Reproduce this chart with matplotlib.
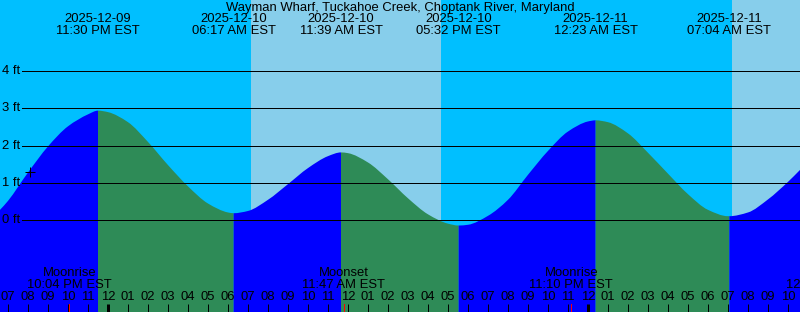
import numpy as np
import matplotlib.pyplot as plt
from matplotlib.path import Path
from matplotlib.patches import PathPatch

# %%
# Tide predictions, Wayman Wharf (hours after 2025-12-10 00:00 EST, feet)
title = 'Wayman Wharf, Tuckahoe Creek, Choptank River, Maryland'

event_hours = [-0.5, 6.283, 11.65, 17.533, 24.383, 31.067]
event_heights = [2.94, 0.19, 1.82, -0.14, 2.68, 0.11]
event_dates = ['2025-12-09', '2025-12-10', '2025-12-10',
               '2025-12-10', '2025-12-11', '2025-12-11']
event_times = ['11:30 PM EST', '06:17 AM EST', '11:39 AM EST',
               '05:32 PM EST', '12:23 AM EST', '07:04 AM EST']

# curve heights read off roughly every hour
curve_hours = [-5.4, -5, -4, -3, -2, -1, 0, 1, 2, 3, 4, 5, 6, 7, 8, 9,
               10, 11, 12, 13, 14, 15, 16, 17, 18, 19, 20, 21, 22, 23,
               24, 25, 26, 27, 28, 29, 30, 31, 32, 33, 34, 34.6]
curve_heights = [0.28, 0.52, 1.28, 1.98, 2.52, 2.84, 2.90, 2.63, 2.10,
                 1.48, 0.91, 0.45, 0.21, 0.25, 0.55, 0.97, 1.40, 1.72,
                 1.80, 1.55, 1.10, 0.59, 0.16, -0.09, -0.12, 0.12, 0.55,
                 1.22, 1.86, 2.38, 2.65, 2.63, 2.33, 1.81, 1.25, 0.70,
                 0.28, 0.11, 0.21, 0.56, 1.03, 1.35]

# daylight
sunrise_hours = [7.15, 31.2]
sunset_hours = [16.65, 41.0]

# moon
moon_hours = [-1.933, 11.783, 23.167, 36.0]
moon_names = ['Moonrise', 'Moonset', 'Moonrise', 'Moonset']
moon_times = ['10:04 PM EST', '11:47 AM EST', '11:10 PM EST', '12:00 PM EST']

grid_levels = [0, 1, 2, 3, 4]
tick_hours = np.arange(-5, 35)
tick_labels = ['%02d' % ((h - 1) % 12 + 1) for h in tick_hours]
midnight_hours = [0, 24]

# %%
plt.rcParams['font.family'] = ['Liberation Sans', 'DejaVu Sans']
night_col = '#00BFFF'
day_col = '#87CEEB'
rise_col = '#0000FF'
fall_col = '#2E8B57'
px = 0.72  # one pixel in points at dpi 100
fs = 9.4

W, H = 800, 312
x0 = -108.0 / 20  # left edge in hours
x1 = x0 + W / 20
y_top = 220.3 / 37.3
y_bot = -(H - 220.3) / 37.3


def ypx(y):
    return (220.3 - y) / 37.3


def slopes(t, h):
    # monotone (Fritsch-Carlson) tangents so the drawn curve stays smooth
    d = np.diff(h) / np.diff(t)
    m = np.zeros_like(h)
    m[0], m[-1] = d[0], d[-1]
    for k in range(1, len(h) - 1):
        if d[k - 1] * d[k] > 0:
            m[k] = 2 / (1 / d[k - 1] + 1 / d[k])
    return m


fig = plt.figure(figsize=(8, 3.12), dpi=100)
fig.patch.set_facecolor(night_col)
ax = fig.add_axes([0, 0, 1, 1])
ax.set_xlim(x0, x1)
ax.set_ylim(y_bot, y_top)
ax.axis('off')

ax.axvspan(x0, x1, color=night_col, lw=0, zorder=0)
for sr, ss in zip(sunrise_hours, sunset_hours):
    ax.axvspan(sr, ss, color=day_col, lw=0, zorder=1)

# tide curve, split at high/low water
t = np.array(curve_hours + event_hours)
h = np.array(curve_heights + event_heights)
order = np.argsort(t)
t, h = t[order], h[order]
m = slopes(t, h)
bounds = [t[0]] + event_hours + [t[-1]]
for b0, b1 in zip(bounds[:-1], bounds[1:]):
    idx = np.where((t >= b0) & (t <= b1))[0]
    verts = [(t[idx[0]], y_bot), (t[idx[0]], h[idx[0]])]
    codes = [Path.MOVETO, Path.LINETO]
    for a, b in zip(idx[:-1], idx[1:]):
        dt = (t[b] - t[a]) / 3
        verts += [(t[a] + dt, h[a] + m[a] * dt),
                  (t[b] - dt, h[b] - m[b] * dt),
                  (t[b], h[b])]
        codes += [Path.CURVE4] * 3
    verts += [(t[idx[-1]], y_bot), (t[idx[0]], y_bot)]
    codes += [Path.LINETO, Path.CLOSEPOLY]
    col = rise_col if h[idx[-1]] > h[idx[0]] else fall_col
    ax.add_patch(PathPatch(Path(verts, codes), facecolor=col, lw=0,
                           zorder=2))

# grid lines and labels
gx = x0 + 22 / 20
for lv in grid_levels:
    ax.plot([gx, x1], [lv, lv], color='black', lw=px, zorder=3)
    ax.text(x0 + 2 / 20, lv, '%d ft' % lv, ha='left', va='center',
            fontsize=fs, zorder=4)

ax.plot(-3.9, 1.30, marker='+', color='black', ms=7, mew=px, zorder=4)

ax.text((x0 + x1) / 2, ypx(7.5), title, ha='center', va='center',
        fontsize=fs, zorder=4)
for eh, ed, et in zip(event_hours, event_dates, event_times):
    ax.text(eh, ypx(19.5), ed, ha='center', va='center', fontsize=fs,
            zorder=4)
    ax.text(eh, ypx(31.5), et, ha='center', va='center', fontsize=fs,
            zorder=4)

for mh, mn, mt in zip(moon_hours, moon_names, moon_times):
    ax.text(mh, ypx(273.5), mn, ha='center', va='center', fontsize=fs,
            zorder=4)
    ax.text(mh, ypx(285.5), mt, ha='center', va='center', fontsize=fs,
            zorder=4)
    ax.plot([mh, mh], [ypx(304), y_bot], color='red', lw=px, zorder=4)

for th, tl in zip(tick_hours, tick_labels):
    ax.text(th, ypx(297.5), tl, ha='center', va='center', fontsize=fs,
            zorder=4)
    lw = 3 * px if th in midnight_hours else px
    ax.plot([th, th], [ypx(304), y_bot], color='black', lw=lw, zorder=4,
            solid_capstyle='butt')

fig.savefig('out.png', dpi=100, facecolor=night_col)
